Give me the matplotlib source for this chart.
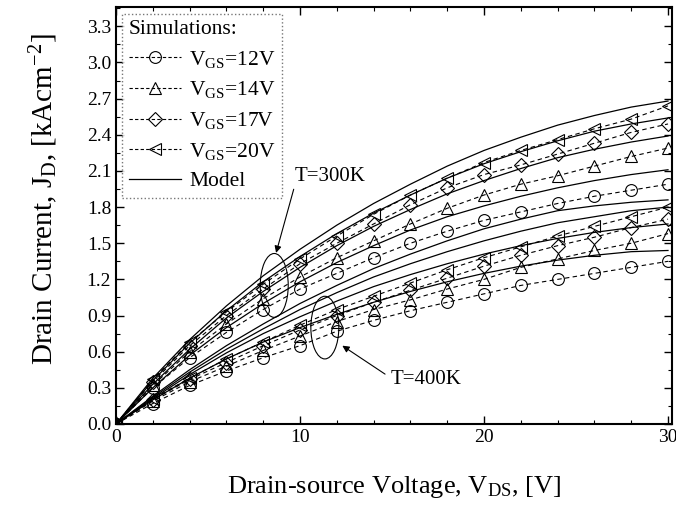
import matplotlib
matplotlib.use("Agg")
import matplotlib.pyplot as plt
from matplotlib.lines import Line2D
from matplotlib.patches import Ellipse

plt.rcParams["font.family"] = "Liberation Serif"
plt.rcParams["mathtext.fontset"] = "custom"
plt.rcParams["mathtext.rm"] = "Liberation Serif"
plt.rcParams["mathtext.it"] = "Liberation Serif"

# drain-source voltage grid (V)
vds = [0, 2, 4, 6, 8, 10, 12, 14, 16, 18, 20, 22, 24, 26, 28, 30]
vgs_labels = ["12V", "14V", "17V", "20V"]
markers = ["o", "^", "D", "<"]

# simulated current density, T = 300 K (kA/cm^2)
sim300_12 = [0, 0.30, 0.55, 0.76, 0.95, 1.12, 1.25, 1.38, 1.50, 1.60, 1.69, 1.76, 1.83, 1.89, 1.94, 1.99]
sim300_14 = [0, 0.32, 0.60, 0.83, 1.04, 1.22, 1.38, 1.52, 1.66, 1.79, 1.90, 1.99, 2.06, 2.14, 2.22, 2.29]
sim300_17 = [0, 0.35, 0.65, 0.90, 1.12, 1.33, 1.50, 1.66, 1.82, 1.96, 2.07, 2.15, 2.24, 2.33, 2.42, 2.49]
sim300_20 = [0, 0.37, 0.68, 0.93, 1.16, 1.37, 1.56, 1.74, 1.90, 2.04, 2.17, 2.27, 2.36, 2.45, 2.53, 2.64]

# model, T = 300 K
mod300_12 = [0, 0.30, 0.57, 0.80, 1.00, 1.18, 1.34, 1.48, 1.61, 1.72, 1.81, 1.89, 1.96, 2.02, 2.07, 2.11]
mod300_14 = [0, 0.33, 0.62, 0.88, 1.10, 1.30, 1.48, 1.64, 1.78, 1.91, 2.02, 2.12, 2.21, 2.28, 2.34, 2.39]
mod300_17 = [0, 0.36, 0.67, 0.94, 1.18, 1.39, 1.58, 1.75, 1.90, 2.04, 2.16, 2.26, 2.35, 2.43, 2.49, 2.54]
mod300_20 = [0, 0.38, 0.70, 0.98, 1.23, 1.45, 1.65, 1.83, 1.99, 2.14, 2.27, 2.38, 2.48, 2.56, 2.63, 2.68]

# simulated current density, T = 400 K
sim400_12 = [0, 0.17, 0.32, 0.44, 0.55, 0.65, 0.77, 0.86, 0.94, 1.01, 1.08, 1.15, 1.20, 1.25, 1.30, 1.35]
sim400_14 = [0, 0.19, 0.35, 0.48, 0.61, 0.73, 0.85, 0.95, 1.03, 1.12, 1.20, 1.30, 1.37, 1.44, 1.50, 1.58]
sim400_17 = [0, 0.20, 0.37, 0.51, 0.65, 0.78, 0.90, 1.01, 1.11, 1.21, 1.31, 1.40, 1.48, 1.55, 1.63, 1.70]
sim400_20 = [0, 0.21, 0.38, 0.54, 0.68, 0.82, 0.95, 1.06, 1.17, 1.28, 1.38, 1.47, 1.56, 1.64, 1.72, 1.80]

# model, T = 400 K
mod400_12 = [0, 0.20, 0.38, 0.54, 0.68, 0.80, 0.91, 1.01, 1.10, 1.18, 1.25, 1.31, 1.36, 1.40, 1.43, 1.44]
mod400_14 = [0, 0.21, 0.41, 0.59, 0.75, 0.89, 1.02, 1.14, 1.24, 1.33, 1.41, 1.48, 1.54, 1.59, 1.63, 1.66]
mod400_17 = [0, 0.22, 0.43, 0.62, 0.79, 0.95, 1.09, 1.22, 1.33, 1.43, 1.52, 1.60, 1.67, 1.72, 1.77, 1.80]
mod400_20 = [0, 0.23, 0.45, 0.65, 0.83, 1.00, 1.15, 1.29, 1.41, 1.52, 1.62, 1.70, 1.77, 1.81, 1.84, 1.86]

sims = [[sim300_12, sim300_14, sim300_17, sim300_20],
        [sim400_12, sim400_14, sim400_17, sim400_20]]
models = [[mod300_12, mod300_14, mod300_17, mod300_20],
          [mod400_12, mod400_14, mod400_17, mod400_20]]

fig = plt.figure(figsize=(6.76, 5.16), dpi=100)
ax = fig.add_axes([0.1716, 0.1783, 0.822, 0.808])

for group_s, group_m in zip(sims, models):
    for ys, ym, mk in zip(group_s, group_m, markers):
        ax.plot(vds, ym, "-", color="black", lw=0.9, zorder=2)
        ax.plot(vds, ys, "--", color="black", lw=0.8, dashes=(4, 3),
                marker=mk, ms=8.5 if mk != "D" else 7, mfc="none", mec="black",
                mew=0.8, zorder=3)

# ellipses grouping the curves of each temperature
ax.add_patch(Ellipse((8.6, 1.15), 1.52, 0.53, fill=False, ec="black", lw=0.8, zorder=4))
ax.add_patch(Ellipse((11.35, 0.80), 1.52, 0.52, fill=False, ec="black", lw=0.8, zorder=4))

ax.annotate("T=300K", xy=(8.7, 1.42), xytext=(9.7, 2.05), fontsize=15,
            ha="left", va="center",
            arrowprops=dict(arrowstyle="-|>", color="black", lw=0.8,
                            shrinkA=0, shrinkB=0, mutation_scale=10,
                            relpos=(0.0, 0.0)))
ax.annotate("T=400K", xy=(12.3, 0.65), xytext=(14.9, 0.37), fontsize=15,
            ha="left", va="center",
            arrowprops=dict(arrowstyle="-|>", color="black", lw=0.8,
                            shrinkA=2, shrinkB=0, mutation_scale=10,
                            relpos=(0.0, 0.6)))

ax.set_xlim(0, 30.2)
ax.set_ylim(0, 3.46)
ax.set_xticks([0, 10, 20, 30])
ax.set_xticks(range(0, 31, 2), minor=True)
ax.set_yticks([i * 0.3 for i in range(12)])
ax.set_yticklabels([f"{i * 0.3:.1f}" for i in range(12)])
ax.set_yticks([i * 0.15 for i in range(24)], minor=True)
ax.tick_params(which="both", direction="in", top=True, right=True, labelsize=14)
ax.tick_params(which="major", length=6, width=1.0)
ax.tick_params(which="minor", length=3, width=0.8)
for sp in ax.spines.values():
    sp.set_linewidth(1.5)

ax.set_xlabel(r"Drain-source Voltage, V$_{\mathrm{DS}}$, [V]", fontsize=19, labelpad=20)
ax.set_ylabel(r"Drain Current, J$_{\mathrm{D}}$, [kAcm$^{\mathrm{-2}}$]", fontsize=21)
ax.yaxis.set_label_coords(-0.1, 0.54)

handles = [Line2D([], [], ls="--", dashes=(3, 2), color="black", lw=0.8, marker=mk,
                  ms=8.5 if mk != "D" else 7, mfc="none", mec="black", mew=0.8)
           for mk in markers]
handles.append(Line2D([], [], ls="-", color="black", lw=0.9))
labels = [r"V$_{\mathrm{GS}}$=" + v for v in vgs_labels] + ["Model"]
leg = ax.legend(handles, labels, title="Simulations:", loc="upper left",
                fontsize=15.5, title_fontsize=15.5, frameon=True, fancybox=False,
                borderaxespad=0.3, handlelength=2.4, handletextpad=0.4,
                labelspacing=0.45, borderpad=0.3, bbox_to_anchor=(0.0, 1.0))
leg._legend_box.align = "left"
frame = leg.get_frame()
frame.set_edgecolor("#555555")
frame.set_linestyle(":")
frame.set_linewidth(1.0)

fig.savefig("out.png", dpi=100)
